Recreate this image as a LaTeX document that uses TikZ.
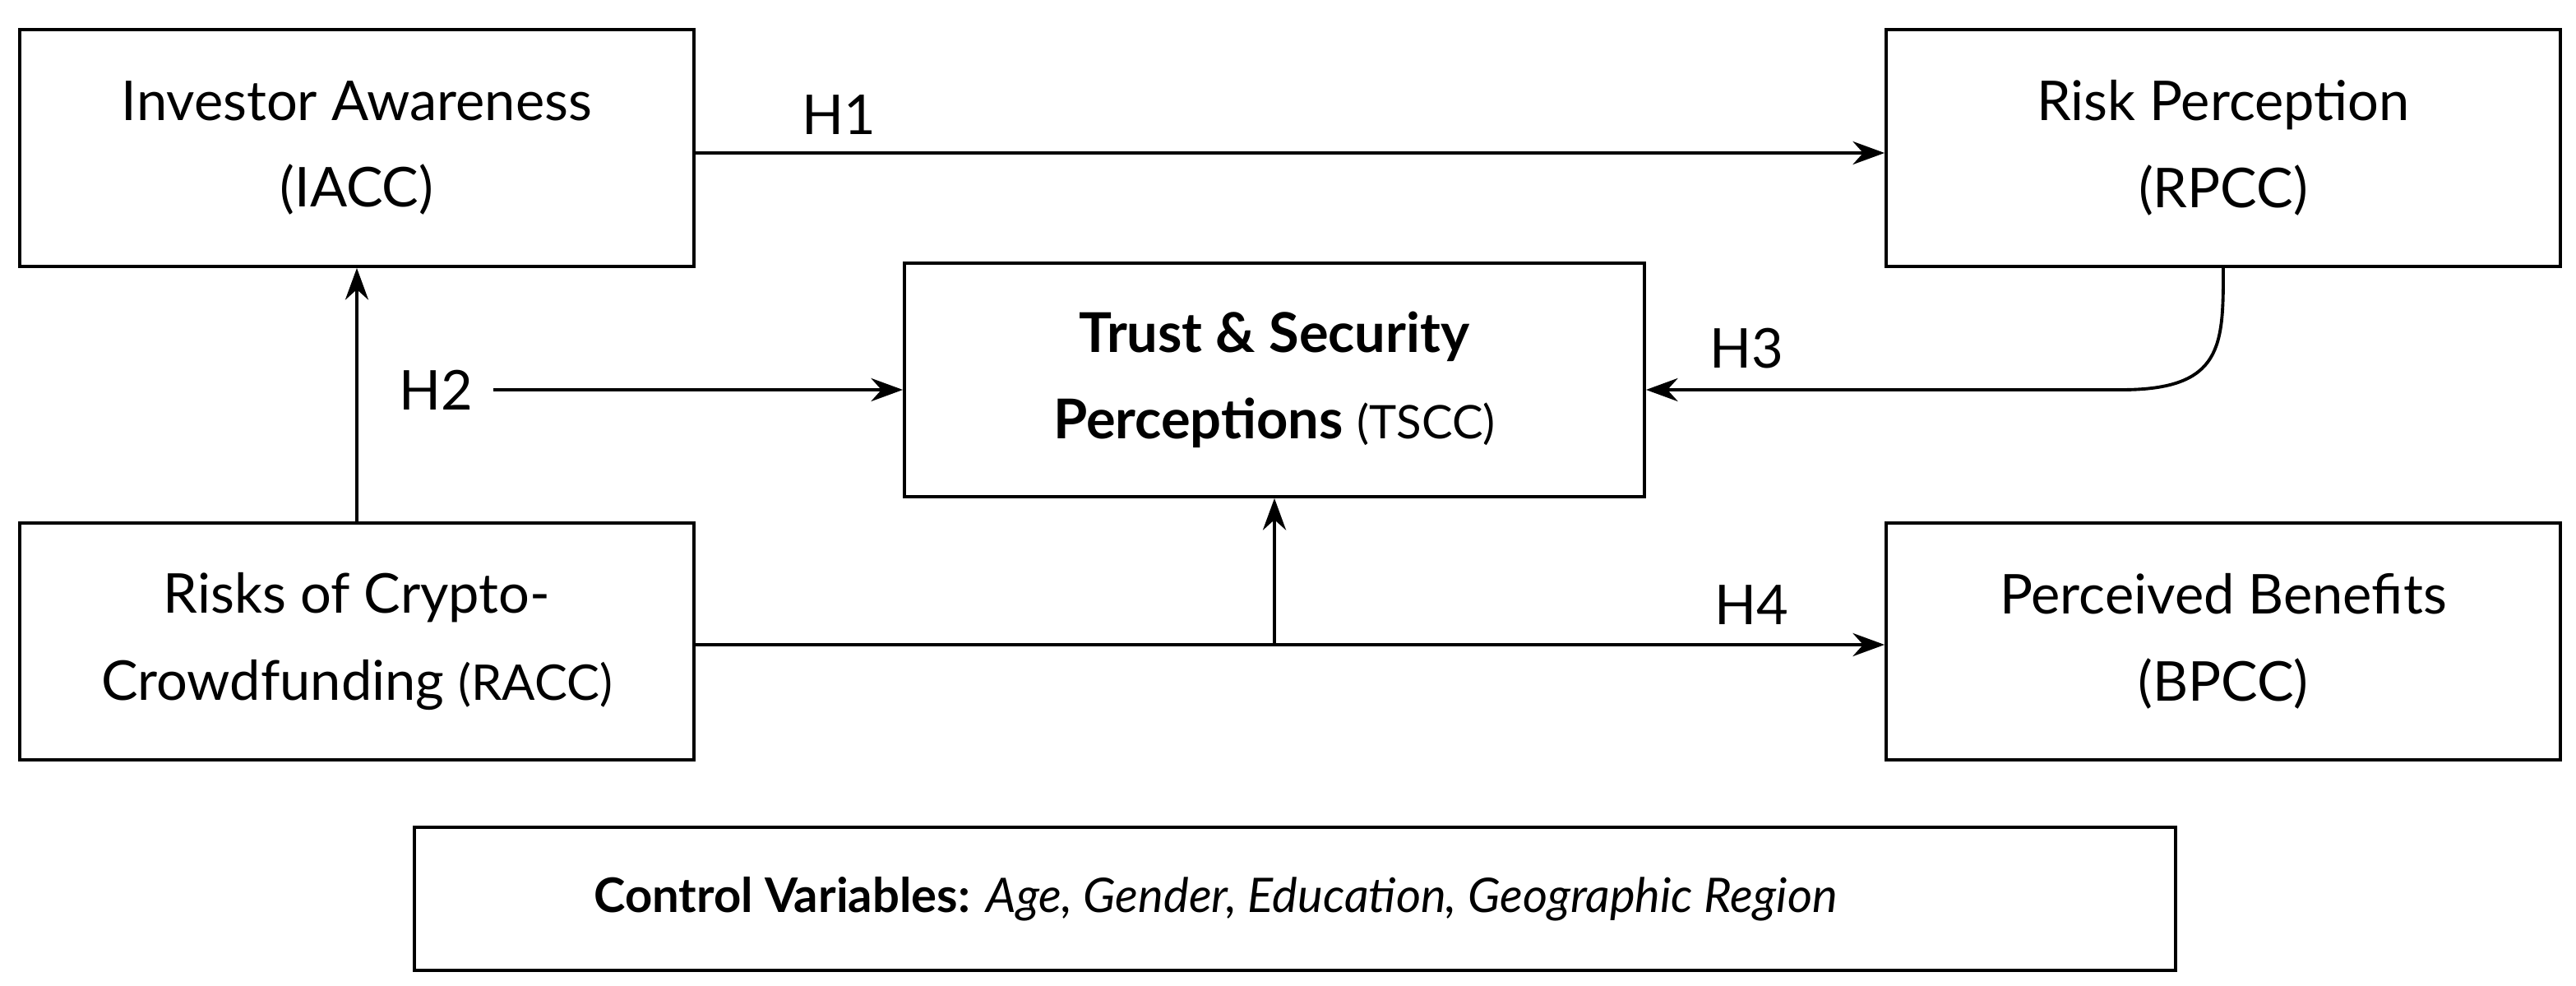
\documentclass[tikz,border=0pt]{standalone}
\usepackage{fontspec}
\setmainfont{Lato}
\usetikzlibrary{arrows.meta}
\begin{document}
\begin{tikzpicture}[x=0.02cm,y=-0.02cm,
  box/.style={draw,line width=1.1pt,inner sep=0pt,align=center,font=\fontsize{19}{30}\selectfont},
  lab/.style={font=\fontsize{19}{22}\selectfont},
  arr/.style={line width=1.1pt,-{Stealth[length=11pt,width=8pt]}}]
\useasboundingbox (0,0) rectangle (1566.5,599.5);
\node[box,minimum width=410*0.02cm,minimum height=144*0.02cm] (ia) at (217,90) {Investor Awareness\\(IACC)};
\node[box,minimum width=410*0.02cm,minimum height=144*0.02cm] (rp) at (1352,90) {Risk Perception\\(RPCC)};
\node[box,minimum width=450*0.02cm,minimum height=142*0.02cm] (ts) at (775,231) {\textbf{Trust \& Security}\\\textbf{Perceptions} {\fontsize{16}{20}\selectfont (TSCC)}};
\node[box,minimum width=410*0.02cm,minimum height=144*0.02cm] (ra) at (217,390) {Risks of Crypto-\\Crowdfunding {\fontsize{17}{20}\selectfont(RACC)}};
\node[box,minimum width=410*0.02cm,minimum height=144*0.02cm] (bp) at (1352,390) {Perceived Benefits\\(BPCC)};
\node[box,minimum width=1071*0.02cm,minimum height=87*0.02cm,font=\fontsize{16.5}{20}\selectfont] (cv) at (787.5,546.5) {\textbf{Control Variables:} \textit{Age, Gender, Education, Geographic Region}\hspace*{55pt}};
\draw[arr] (ia.east |- 0,93) coordinate (h1s) -- (rp.west |- h1s);
\node[lab] (h1) at (510,70) {H1};
\draw[arr] (ra.north) -- (ia.south);
\node[lab] (h2) at (265,237) {H2};
\coordinate (h2s) at (300,237);
\draw[arr] (h2s) -- (ts.west |- h2s);
\node[lab] (h3) at (1062,212) {H3};
\coordinate (h3c) at (1290,237);
\draw[arr] (rp.south) .. controls (1352,210) and (1352,237) .. (h3c) -- (ts.east |- h3c);
\node[lab] (h4) at (1065,368) {H4};
\coordinate (h4s) at (ra.east |- 0,392);
\draw[arr] (h4s) -- (bp.west |- h4s);
\coordinate (br) at (775,392);
\draw[arr] (br) -- (ts.south);
\end{tikzpicture}
\end{document}
